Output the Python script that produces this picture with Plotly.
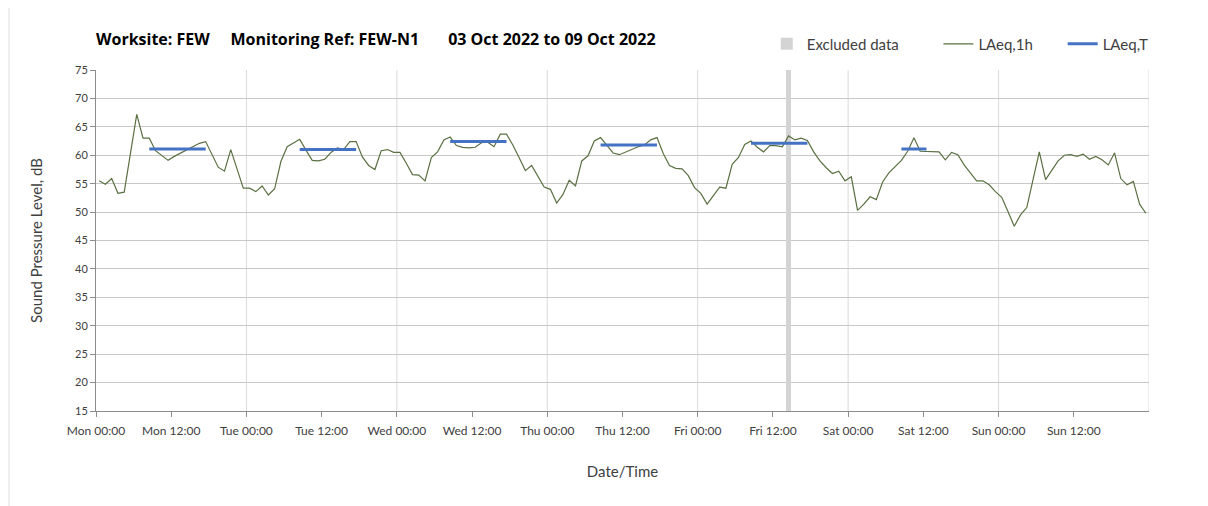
import plotly.graph_objects as go

# ---------------- data ----------------
DAY_NAMES = ["Mon", "Tue", "Wed", "Thu", "Fri", "Sat", "Sun"]
TICK_HOURS = ["00:00", "12:00"]

# hourly LAeq,1h (dB) for Mon 00:00 .. Sun 23:00
LAEQ_1H = [
    # Mon
    55.5, 54.9, 55.9, 53.3, 53.5, 60.3, 67.2, 63.0, 63.0, 60.8, 60.0, 59.1,
    59.8, 60.4, 61.0, 61.6, 62.1, 62.4, 60.1, 57.9, 57.2, 61.0, 57.6, 54.2,
    # Tue
    54.2, 53.6, 54.6, 53.0, 54.1, 58.9, 61.5, 62.2, 62.8, 60.9, 59.1, 59.0,
    59.3, 60.5, 61.3, 61.0, 62.4, 62.4, 59.7, 58.2, 57.5, 60.8, 61.0, 60.5,
    # Wed
    60.5, 58.6, 56.6, 56.5, 55.5, 59.6, 60.6, 62.7, 63.2, 61.7, 61.4, 61.3,
    61.4, 62.2, 62.3, 61.5, 63.7, 63.7, 61.8, 59.6, 57.3, 58.2, 56.3, 54.4,
    # Thu
    54.0, 51.6, 53.1, 55.6, 54.6, 59.0, 59.9, 62.5, 63.1, 61.7, 60.4, 60.1,
    60.6, 61.1, 61.5, 61.8, 62.7, 63.1, 60.3, 58.2, 57.7, 57.6, 56.4, 54.3,
    # Fri
    53.3, 51.4, 52.9, 54.4, 54.2, 58.4, 59.6, 61.9, 62.5, 61.4, 60.6, 61.7,
    61.7, 61.5, 63.4, 62.7, 63.0, 62.6, 60.6, 59.0, 57.8, 56.8, 57.2, 55.5,
    # Sat
    56.2, 50.3, 51.4, 52.7, 52.2, 55.3, 56.9, 58.0, 59.1, 60.7, 63.1, 60.7,
    60.7, 60.7, 60.6, 59.2, 60.5, 60.1, 58.3, 56.9, 55.5, 55.5, 54.8, 53.6,
    # Sun
    52.6, 50.1, 47.5, 49.5, 50.8, 55.7, 60.6, 55.7, 57.4, 59.0, 60.0, 60.1,
    59.8, 60.2, 59.3, 59.8, 59.2, 58.3, 60.4, 55.9, 54.8, 55.4, 51.4, 49.8,
]

# LAeq,T periods: (first hour index, last hour index, level dB)
LAEQ_T_START = [8, 32, 56, 80, 104, 128]
LAEQ_T_END = [17, 41, 65, 89, 113, 132]
LAEQ_T_VALUE = [61.1, 61.0, 62.4, 61.8, 62.1, 61.1]

# hours with excluded data
EXCLUDED_HOURS = [110]

Y_MIN, Y_MAX, Y_STEP = 15, 75, 5

# ---------------- build ----------------
n_hours = len(LAEQ_1H)
x_hours = [h + 0.5 for h in range(n_hours)]

laeq_t = [None] * n_hours
for s, e, v in zip(LAEQ_T_START, LAEQ_T_END, LAEQ_T_VALUE):
    for h in range(s, e + 1):
        laeq_t[h] = v

tickvals, ticktext = [], []
for d, name in enumerate(DAY_NAMES):
    for k, hh in enumerate(TICK_HOURS):
        tickvals.append(d * 24 + k * 12)
        ticktext.append(f"{name} {hh}")

FONT = "Lato, 'Open Sans', sans-serif"
TXT = "#404040"

# figure size compensates for the 8px page margin of the html body
W, H = 1200, 498
ML, MR, MT, MB = 88, 59, 62, 95
PW = W - ML - MR
PH = H - MT - MB

fig = go.Figure()
fig.add_trace(go.Bar(
    x=[h + 0.5 for h in EXCLUDED_HOURS],
    y=[Y_MAX - Y_MIN] * len(EXCLUDED_HOURS),
    base=[Y_MIN] * len(EXCLUDED_HOURS),
    width=0.9,
    marker=dict(color="#d4d4d4", line=dict(width=0)),
    name="Excluded data",
    legend="legend",
    hoverinfo="skip",
))
fig.add_trace(go.Scatter(
    x=x_hours, y=LAEQ_1H, mode="lines", name="LAeq,1h",
    line=dict(color="#5b7042", width=1.2),
    legend="legend2",
))
fig.add_trace(go.Scatter(
    x=x_hours, y=laeq_t, mode="lines", name="LAeq,T",
    line=dict(color="#4472c4", width=3),
    connectgaps=False,
    legend="legend3",
))

# vertical day gridlines
for d in range(1, len(DAY_NAMES) + 1):
    fig.add_shape(type="line", xref="x", yref="y", x0=d * 24, x1=d * 24,
                  y0=Y_MIN, y1=Y_MAX, line=dict(color="#dadada", width=1),
                  layer="below")

# faint outer frame line on the left
fx = (1 - ML) / PW
fig.add_shape(type="line", xref="paper", yref="paper",
              x0=fx, x1=fx, y0=-MB / PH, y1=(PH + MT) / PH,
              line=dict(color="#e0e0e0", width=1))

leg_common = dict(orientation="h", yanchor="middle", xanchor="left",
                  y=1.076, bgcolor="rgba(0,0,0,0)",
                  font=dict(family=FONT, size=15, color=TXT))

NB = "\u00a0"
title_text = ("<b>Worksite: FEW" + NB * 5 + "Monitoring Ref: FEW-N1" + NB * 7
              + "03 Oct 2022 to 09 Oct 2022</b>")

fig.update_layout(
    width=W, height=H,
    margin=dict(l=ML, r=MR, t=MT, b=MB),
    paper_bgcolor="white", plot_bgcolor="white",
    font=dict(family=FONT, color=TXT),
    title=dict(
        text=title_text,
        x=ML / W, xanchor="left", y=1 - 31 / H, yanchor="middle",
        font=dict(family="'Open Sans', Lato, sans-serif", size=16, color="#000000"),
    ),
    showlegend=True,
    legend=dict(x=0.637, **leg_common),
    legend2=dict(x=0.800, **leg_common),
    legend3=dict(x=0.918, **leg_common),
    bargap=0,
    xaxis=dict(
        range=[0, n_hours], tickmode="array", tickvals=tickvals, ticktext=ticktext,
        showgrid=False, zeroline=False,
        showline=True, linecolor="#8c8c8c", linewidth=1,
        ticks="outside", ticklen=5, tickcolor="#8c8c8c",
        ticklabelstandoff=4,
        tickfont=dict(family=FONT, size=12, color=TXT),
        title=dict(text="Date/Time", font=dict(family=FONT, size=15, color=TXT), standoff=29),
    ),
    yaxis=dict(
        range=[Y_MIN, Y_MAX], tickmode="linear", tick0=Y_MIN, dtick=Y_STEP,
        showgrid=True, gridcolor="#c8c8c8", gridwidth=1, zeroline=False,
        showline=True, linecolor="#8c8c8c", linewidth=1,
        ticks="outside", ticklen=5, tickcolor="#8c8c8c",
        tickfont=dict(family=FONT, size=11, color=TXT),
        title=dict(text="Sound Pressure Level, dB", font=dict(family=FONT, size=15, color=TXT), standoff=28),
    ),
)

fig.write_html("out.html")
